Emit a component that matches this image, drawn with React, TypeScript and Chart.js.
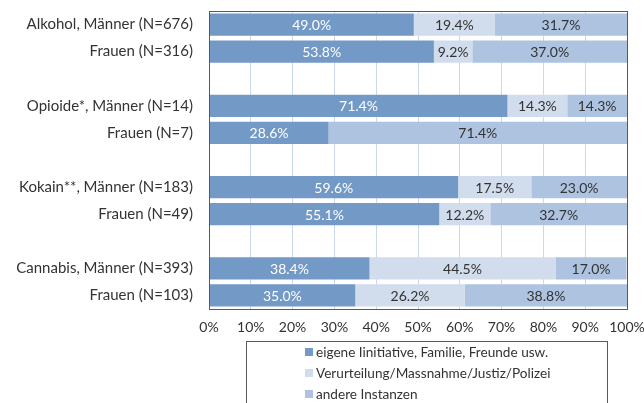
import React, { useEffect, useRef } from "react";
import { Chart, registerables } from "chart.js";

Chart.register(...registerables);

const categories = [
  "Alkohol, Männer (N=676)",
  "Frauen (N=316)",
  "",
  "Opioide*, Männer (N=14)",
  "Frauen (N=7)",
  "",
  "Kokain**, Männer (N=183)",
  "Frauen (N=49)",
  "",
  "Cannabis, Männer (N=393)",
  "Frauen (N=103)",
];

const seriesNames = [
  "eigene Iinitiative, Familie, Freunde usw.",
  "Verurteilung/Massnahme/Justiz/Polizei",
  "andere Instanzen",
];

const eigene = [49.0, 53.8, null, 71.4, 28.6, null, 59.6, 55.1, null, 38.4, 35.0];
const verurteilung = [19.4, 9.2, null, 14.3, null, null, 17.5, 12.2, null, 44.5, 26.2];
const andere = [31.7, 37.0, null, 14.3, 71.4, null, 23.0, 32.7, null, 17.0, 38.8];

const xTicks = [0, 10, 20, 30, 40, 50, 60, 70, 80, 90, 100];

const colors = ["#7399C6", "#D1DDEC", "#ADC3E0"];
const labelColors = ["#FFFFFF", "#333333", "#333333"];
const FONT = "Lato";

const valueLabels = {
  id: "valueLabels",
  afterDatasetsDraw(chart: any) {
    const ctx = chart.ctx;
    ctx.save();
    ctx.font = `14px ${FONT}`;
    ctx.textAlign = "center";
    ctx.textBaseline = "middle";
    chart.data.datasets.forEach((ds: any, di: number) => {
      const meta = chart.getDatasetMeta(di);
      meta.data.forEach((el: any, i: number) => {
        const v = ds.data[i];
        if (v === null || v === undefined || v === 0) return;
        const x0 = Math.min(el.x, el.base);
        const x1 = Math.min(Math.max(el.x, el.base), chart.chartArea.right);
        ctx.fillStyle = labelColors[di];
        ctx.fillText(v.toFixed(1) + "%", (x0 + x1) / 2, el.y + 1);
      });
    });
    ctx.restore();
  },
};

const frameAndLegend = {
  id: "frameAndLegend",
  afterDraw(chart: any) {
    const ctx = chart.ctx;
    const a = chart.chartArea;
    ctx.save();
    ctx.strokeStyle = "#595959";
    ctx.lineWidth = 1;
    ctx.strokeRect(Math.round(a.left) + 0.5, Math.round(a.top) + 0.5, Math.round(a.right - a.left), Math.round(a.bottom - a.top));
    ctx.strokeRect(246.5, 341.5, 361, 80);
    ctx.font = `13.6px ${FONT}`;
    ctx.textAlign = "left";
    ctx.textBaseline = "middle";
    seriesNames.forEach((name, i) => {
      const cy = 352 + i * 21;
      ctx.fillStyle = colors[i];
      ctx.fillRect(305, cy - 4, 8, 8);
      ctx.fillStyle = "#333333";
      ctx.fillText(name, 316, cy + 1);
    });
    ctx.restore();
  },
};

export default function App() {
  const ref = useRef<HTMLCanvasElement>(null);
  useEffect(() => {
    if (!ref.current) return;
    const chart = new Chart(ref.current, {
      type: "bar",
      data: {
        labels: categories,
        datasets: [
          { label: seriesNames[0], data: eigene, backgroundColor: colors[0] },
          { label: seriesNames[1], data: verurteilung, backgroundColor: colors[1] },
          { label: seriesNames[2], data: andere, backgroundColor: colors[2] },
        ],
      },
      options: {
        indexAxis: "y",
        animation: false,
        responsive: false,
        maintainAspectRatio: false,
        barPercentage: 0.82,
        categoryPercentage: 1,
        layout: { padding: { left: 0, right: 17, top: 11, bottom: 64 } },
        plugins: {
          legend: { display: false },
          tooltip: { enabled: false },
        },
        scales: {
          x: {
            stacked: true,
            min: 0,
            max: 100,
            afterBuildTicks(axis: any) {
              axis.ticks = xTicks.map((v) => ({ value: v }));
            },
            ticks: {
              callback: (v: any) => v + "%",
              font: { family: FONT, size: 14 },
              color: "#333333",
              padding: 10,
              maxRotation: 0,
            },
            grid: { color: "#C9D8EB", drawTicks: false },
            border: { display: false },
            afterFit(axis: any) {
              axis.height = 30;
              axis.paddingLeft = 0;
              axis.paddingRight = 0;
              axis.paddingTop = 0;
              axis.paddingBottom = 0;
            },
          },
          y: {
            stacked: true,
            ticks: {
              font: { family: FONT, size: 15 },
              color: "#333333",
              padding: 16,
              autoSkip: false,
            },
            grid: { display: false, drawTicks: false },
            border: { display: false },
            afterFit(axis: any) {
              axis.width = 209;
              axis.paddingLeft = 0;
              axis.paddingRight = 0;
              axis.paddingTop = 0;
              axis.paddingBottom = 0;
            },
          },
        },
      },
      plugins: [valueLabels, frameAndLegend],
    } as any);
    return () => chart.destroy();
  }, []);
  return (
    <div style={{ position: "fixed", left: 0, top: 0, width: 644, height: 403, background: "#fff" }}>
      <canvas ref={ref} width={644} height={403} style={{ width: 644, height: 403 }} />
    </div>
  );
}
